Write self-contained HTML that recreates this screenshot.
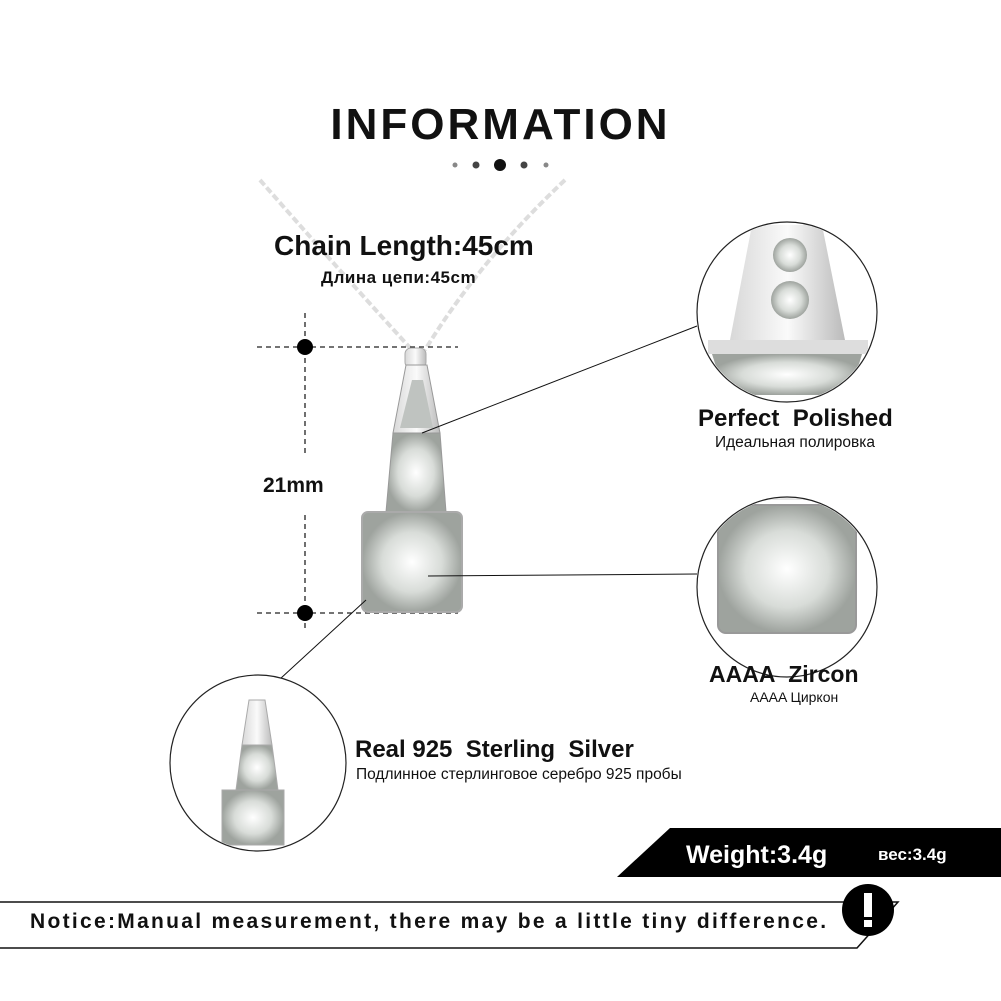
<!DOCTYPE html>
<html><head><meta charset="utf-8"><style>
html,body{margin:0;padding:0;background:#fff}
body{width:1001px;height:1001px;position:relative;overflow:hidden;font-family:"Liberation Sans",sans-serif}
.t{position:absolute;white-space:nowrap;color:#111}
</style></head><body>
<svg width="1001" height="1001" style="position:absolute;left:0;top:0">
<defs>
<linearGradient id="m" x1="0" x2="1"><stop offset="0" stop-color="#d8d8d8"/><stop offset=".5" stop-color="#fafafa"/><stop offset="1" stop-color="#bbb"/></linearGradient>
<radialGradient id="g"><stop offset="0" stop-color="#fff"/><stop offset=".6" stop-color="#d8dcd8"/><stop offset="1" stop-color="#9ea39e"/></radialGradient>
<clipPath id="c1"><circle cx="787" cy="312" r="89"/></clipPath>
<clipPath id="c2"><circle cx="787" cy="587" r="89"/></clipPath>
<clipPath id="c3"><circle cx="258" cy="763" r="87"/></clipPath>
</defs>
<circle cx="455" cy="165" r="2.5" fill="#888"/><circle cx="476" cy="165" r="3.5" fill="#444"/><circle cx="500" cy="165" r="6" fill="#111"/><circle cx="524" cy="165" r="3.5" fill="#444"/><circle cx="546" cy="165" r="2.5" fill="#888"/>
<path d="M260 180 Q330 260 412 350" stroke="#ddd" stroke-width="4" fill="none" stroke-dasharray="7 3"/>
<path d="M565 180 Q480 260 425 350" stroke="#ddd" stroke-width="4" fill="none" stroke-dasharray="7 3"/>
<g stroke="#222" stroke-width="1.3" stroke-dasharray="5 4" fill="none">
<line x1="257" y1="347" x2="458" y2="347"/><line x1="257" y1="613" x2="458" y2="613"/>
<line x1="305" y1="313" x2="305" y2="455"/><line x1="305" y1="515" x2="305" y2="630"/>
</g>
<circle cx="305" cy="347" r="8" fill="#000"/><circle cx="305" cy="613" r="8" fill="#000"/>
<rect x="405" y="348" width="21" height="20" rx="6" fill="url(#m)" stroke="#aaa"/>
<polygon points="406,365 427,365 440,433 393,433" fill="url(#m)" stroke="#999"/>
<polygon points="412,380 423,380 433,428 400,428" fill="#bfc3c0"/>
<polygon points="393,433 440,433 446,512 386,512" fill="url(#g)" stroke="#999"/>
<rect x="362" y="512" width="100" height="100" rx="6" fill="url(#g)" stroke="#aaa" stroke-width="2"/>
<g stroke="#111" stroke-width="1"><line x1="422" y1="433" x2="697" y2="326"/><line x1="428" y1="576" x2="697" y2="574"/><line x1="366" y1="600" x2="268" y2="690"/></g>
<circle cx="787" cy="312" r="90" fill="#fff" stroke="#222" stroke-width="1.2"/>
<g clip-path="url(#c1)">
<polygon points="752,225 822,225 845,340 730,340" fill="url(#m)"/>
<circle cx="790" cy="255" r="17" fill="url(#g)"/><circle cx="790" cy="300" r="19" fill="url(#g)"/>
<rect x="708" y="340" width="160" height="14" fill="#ddd"/>
<polygon points="712,354 862,354 850,395 725,395" fill="url(#g)"/>
</g>
<circle cx="787" cy="587" r="90" fill="#fff" stroke="#222" stroke-width="1.2"/>
<g clip-path="url(#c2)">
<rect x="737" y="485" width="100" height="15" fill="#e4e4e4"/>
<rect x="718" y="505" width="138" height="128" rx="8" fill="url(#g)" stroke="#999" stroke-width="2"/>
</g>
<circle cx="258" cy="763" r="88" fill="#fff" stroke="#222" stroke-width="1.2"/>
<g clip-path="url(#c3)">
<polygon points="249,700 265,700 272,745 242,745" fill="url(#m)" stroke="#aaa"/>
<polygon points="242,745 272,745 278,790 236,790" fill="url(#g)" stroke="#aaa"/>
<rect x="222" y="790" width="62" height="55" fill="url(#g)" stroke="#aaa"/>
</g>
<polygon points="670,828 1001,828 1001,877 617,877" fill="#000"/>
<polyline points="0,902 898,902 857,948 0,948" fill="none" stroke="#111" stroke-width="1.5"/>
<circle cx="868" cy="910" r="26" fill="#000"/>
<rect x="864" y="893" width="8" height="24" fill="#fff"/><rect x="864" y="920" width="8" height="7" fill="#fff"/>
</svg>
<div class="t" style="left:0;width:1001px;text-align:center;top:100px;font-size:44px;font-weight:bold;letter-spacing:3px">INFORMATION</div>
<div class="t" style="left:274px;top:230px;font-size:28px;font-weight:bold">Chain Length:45cm</div>
<div class="t" style="left:321px;top:268px;font-size:17px;font-weight:bold;letter-spacing:.5px">Длина цепи:45cm</div>
<div class="t" style="left:263px;top:474px;font-size:21px;font-weight:bold">21mm</div>
<div class="t" style="left:698px;top:405px;font-size:24px;font-weight:bold">Perfect&nbsp; Polished</div>
<div class="t" style="left:715px;top:434px;font-size:15.5px">Идеальная полировка</div>
<div class="t" style="left:709px;top:661px;font-size:23px;font-weight:bold">AAAA&nbsp; Zircon</div>
<div class="t" style="left:750px;top:689px;font-size:14px">AAAA Циркон</div>
<div class="t" style="left:355px;top:736px;font-size:24px;font-weight:bold">Real 925&nbsp; Sterling&nbsp; Silver</div>
<div class="t" style="left:356px;top:766px;font-size:15.5px">Подлинное стерлинговое серебро 925 пробы</div>
<div class="t" style="left:686px;top:841px;font-size:25px;font-weight:bold;color:#fff">Weight:3.4g</div>
<div class="t" style="left:878px;top:845px;font-size:17px;font-weight:bold;color:#fff">вес:3.4g</div>
<div class="t" style="left:30px;top:910px;font-size:21px;font-weight:bold;letter-spacing:2.3px">Notice:Manual measurement, there may be a little tiny difference.</div>
</body></html>
